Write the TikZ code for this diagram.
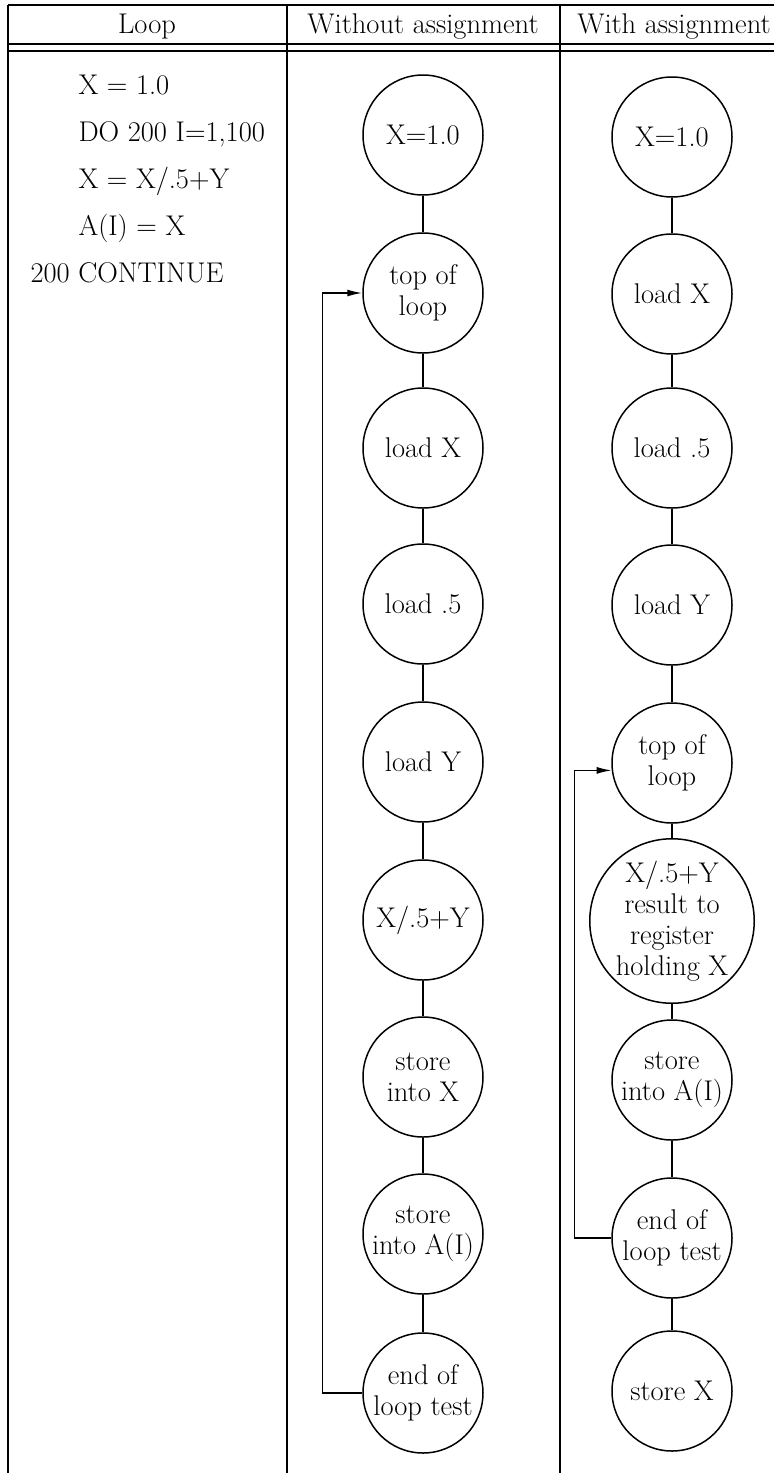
\documentclass[tikz,border=0pt]{standalone}
\usepackage{fontspec}
\setmainfont{Latin Modern Roman}
\usetikzlibrary{arrows.meta}
\begin{document}
\begin{tikzpicture}[x=1pt,y=-1pt,
  every node/.style={font=\fontsize{28.5}{31}\selectfont},
  cnode/.style={circle,draw,line width=1.5pt,minimum size=120pt,inner sep=0pt,align=center},
  bignode/.style={cnode,minimum size=164pt},
  rule/.style={line width=1.1pt},
  link/.style={line width=1.5pt},
  back/.style={line width=1.5pt,-{Latex[length=15pt,width=7pt]}},
  code/.style={anchor=base west},
  head/.style={anchor=base}]
\useasboundingbox (0,0) rectangle (774,1473);
% table rules
\draw[rule] (8,5) -- (774,5);
\draw[rule] (8,44) -- (774,44);
\draw[rule] (8,51) -- (774,51);
\draw[rule] (8,5) -- (8,1473);
\draw[rule] (287,5) -- (287,1473);
\draw[rule] (560,5) -- (560,1473);
% headers
\node[head] (h1) at (147,33) {Loop};
\node[head] (h2) at (423,33) {Without assignment};
\node[head] (h3) at (674,33) {With assignment};
% code
\node[code] (c1) at (75,94) {X = 1.0};
\node[code] (c2) at (75,141) {DO 200 I=1,100};
\node[code] (c3) at (75,188) {X = X/.5+Y};
\node[code] (c4) at (75,235) {A(I) = X};
\node[code] (c5) at (27,282) {200 CONTINUE};
% without assignment
\node[cnode] (m1) at (423,135) {X=1.0};
\node[cnode] (m2) at (423,293) {top of\\loop};
\node[cnode] (m3) at (423,448) {load X};
\node[cnode] (m4) at (423,604) {load .5};
\node[cnode] (m5) at (423,762) {load Y};
\node[cnode] (m6) at (423,920) {X/.5+Y};
\node[cnode] (m7) at (423,1077) {store\\into X};
\node[cnode] (m8) at (423,1234) {store\\into A(I)};
\node[cnode] (m9) at (423,1393) {end of\\loop test};
\draw[link] (m1) -- (m2);
\draw[link] (m2) -- (m3);
\draw[link] (m3) -- (m4);
\draw[link] (m4) -- (m5);
\draw[link] (m5) -- (m6);
\draw[link] (m6) -- (m7);
\draw[link] (m7) -- (m8);
\draw[link] (m8) -- (m9);
\draw[back] (m9.west) -- ++(-40,0) |- (m2.west);
% with assignment
\node[cnode] (r1) at (672,137) {X=1.0};
\node[cnode] (r2) at (672,294) {load X};
\node[cnode] (r3) at (672,448) {load .5};
\node[cnode] (r4) at (672,605) {load Y};
\node[cnode] (r5) at (672,763) {top of\\loop};
\node[bignode] (r6) at (672,921) {X/.5+Y\\result to\\register\\holding X};
\node[cnode] (r7) at (672,1080) {store\\into A(I)};
\node[cnode] (r8) at (672,1238) {end of\\loop test};
\node[cnode] (r9) at (672,1391) {store X};
\draw[link] (r1) -- (r2);
\draw[link] (r2) -- (r3);
\draw[link] (r3) -- (r4);
\draw[link] (r4) -- (r5);
\draw[link] (r5) -- (r6);
\draw[link] (r6) -- (r7);
\draw[link] (r7) -- (r8);
\draw[link] (r8) -- (r9);
\draw[back] (r8.west) -- ++(-37,0) |- (r5.187);
\end{tikzpicture}
\end{document}
